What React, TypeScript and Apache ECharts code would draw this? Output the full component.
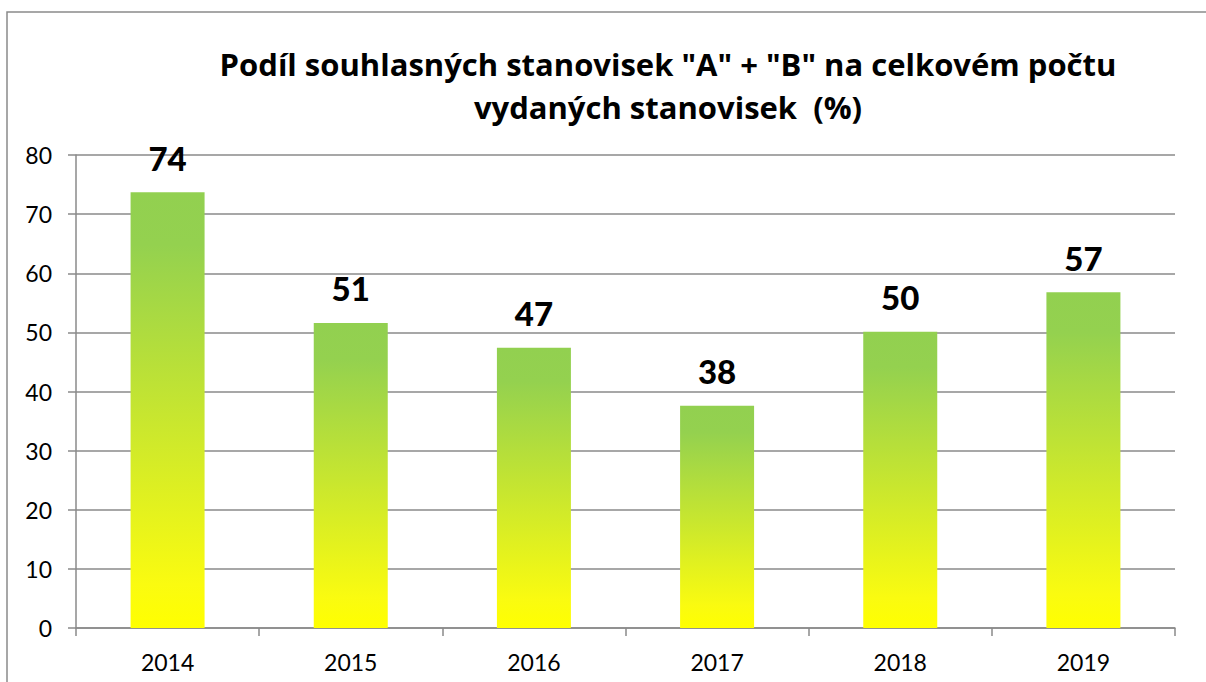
import React, { useEffect, useRef } from "react";
import * as echarts from "echarts";

const years = ["2014", "2015", "2016", "2017", "2018", "2019"];
const shares = [73.7, 51.6, 47.4, 37.6, 50.1, 56.8];
const shownLabels = ["74", "51", "47", "38", "50", "57"];
const yTicks = { min: 0, max: 80, interval: 10 };
const titleText = 'Podíl souhlasných stanovisek "A" + "B" na celkovém počtu\nvydaných stanovisek  (%)';

export default function App() {
  const ref = useRef<HTMLDivElement>(null);
  useEffect(() => {
    if (!ref.current) return;
    const chart = echarts.init(ref.current, null, { renderer: "svg" });
    const gray = "#8a8a8a";
    const font = "Lato, 'Open Sans', sans-serif";
    chart.setOption({
      animation: false,
      backgroundColor: "#ffffff",
      title: {
        text: titleText,
        left: 663,
        top: 37,
        textAlign: "center",
        textStyle: {
          fontFamily: "'Open Sans', Lato, sans-serif",
          fontWeight: "bold",
          fontSize: 31,
          lineHeight: 43,
          color: "#000",
        },
      },
      graphic: [
        {
          type: "rect",
          shape: { x: 7, y: 12, width: 1400, height: 900 },
          style: { fill: "none", stroke: gray, lineWidth: 1.5 },
          silent: true,
        },
      ],
      grid: { left: 76, right: 31, top: 155, bottom: 54, containLabel: false },
      xAxis: {
        type: "category",
        data: years,
        boundaryGap: true,
        axisLine: { show: true, lineStyle: { color: gray, width: 1.5 } },
        axisTick: { show: true, length: 8, lineStyle: { color: gray, width: 1.5 } },
        axisLabel: { fontFamily: font, fontSize: 23, color: "#000", margin: 22 },
      },
      yAxis: {
        type: "value",
        min: yTicks.min,
        max: yTicks.max,
        interval: yTicks.interval,
        axisLine: { show: true, lineStyle: { color: gray, width: 1.5 } },
        axisTick: { show: true, length: 8, lineStyle: { color: gray, width: 1.5 } },
        splitLine: { show: true, lineStyle: { color: gray, width: 1.5 } },
        axisLabel: { fontFamily: font, fontSize: 23, color: "#000", margin: 24 },
      },
      series: [
        {
          type: "bar",
          data: shares,
          barWidth: 74,
          itemStyle: {
            color: new echarts.graphic.LinearGradient(0, 0, 0, 1, [
              { offset: 0, color: "#92D050" },
              { offset: 0.12, color: "#94D14F" },
              { offset: 0.9, color: "#FAFB10" },
              { offset: 1, color: "#FFFF00" },
            ]),
          },
          label: {
            show: true,
            position: "top",
            distance: 18,
            formatter: (p: any) => shownLabels[p.dataIndex],
            fontFamily: font,
            fontWeight: "900",
            fontSize: 33,
            color: "#000",
          },
        },
      ],
    });
    return () => chart.dispose();
  }, []);
  return (
    <div
      ref={ref}
      style={{ position: "fixed", left: 0, top: 0, width: 1206, height: 682 }}
    />
  );
}
